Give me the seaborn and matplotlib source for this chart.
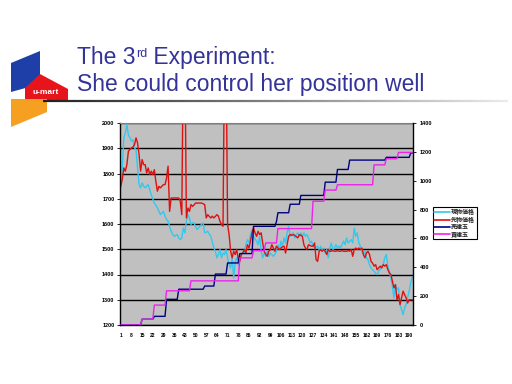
import numpy as np
import pandas as pd
import matplotlib
matplotlib.use("Agg")
import matplotlib.pyplot as plt
import seaborn as sns
from matplotlib.patches import Polygon
from matplotlib.collections import LineCollection
from matplotlib.lines import Line2D

# ---------------- data ----------------
spot_price = [
    1740, 1822, 1941, 1961, 1994, 1954, 1941, 1928, 1934, 1901,
    1895, 1822, 1756, 1743, 1763, 1750, 1743, 1750, 1756, 1735,
    1716, 1700, 1683, 1675, 1664, 1650, 1637, 1645, 1650, 1630,
    1618, 1611, 1590, 1571, 1560, 1551, 1555, 1558, 1545, 1538,
    1545, 1584, 1565, 1611, 1637, 1624, 1598, 1605, 1604, 1590,
    1578, 1585, 1591, 1600, 1604, 1565, 1568, 1571, 1560, 1551,
    1530, 1505, 1492, 1466, 1479, 1499, 1466, 1485, 1479, 1499,
    1466, 1439, 1426, 1466, 1386, 1452, 1466, 1439, 1460, 1479,
    1492, 1485, 1518, 1538, 1525, 1558, 1578, 1551, 1540, 1532,
    1518, 1551, 1492, 1466, 1485, 1472, 1492, 1472, 1485, 1478,
    1472, 1480, 1492, 1518, 1499, 1532, 1512, 1545, 1525, 1565,
    1591, 1551, 1560, 1565, 1545, 1558, 1565, 1551, 1565, 1551,
    1565, 1551, 1558, 1545, 1525, 1532, 1512, 1505, 1508, 1512,
    1499, 1512, 1492, 1505, 1485, 1499, 1466, 1505, 1525, 1499,
    1505, 1518, 1505, 1512, 1505, 1518, 1532, 1518, 1545, 1525,
    1532, 1538, 1525, 1584, 1551, 1565, 1525, 1512, 1492, 1479,
    1492, 1466, 1459, 1439, 1426, 1419, 1413, 1405, 1400, 1413,
    1419, 1433, 1439, 1466, 1479, 1433, 1413, 1386, 1353, 1307,
    1360, 1340, 1347, 1281, 1261, 1241, 1268, 1281, 1310, 1334,
    1367, 1390,
]
futures_price = [
    1750, 1776, 1822, 1809, 1835, 1888, 1895, 1901, 1905, 1914,
    1941, 1921, 1875, 1809, 1855, 1835, 1835, 1802, 1822, 1796,
    1809, 1796, 1815, 1769, 1730, 1749, 1743, 1750, 1756, 1756,
    1782, 1829, 1650, 1703, 1703, 1703, 1703, 1703, 1703, 1690,
    1637, 2300, 2300, 1624, 1663, 1650, 1677, 1670, 1675, 1683,
    1683, 1683, 1683, 1683, 1680, 1677, 1624, 1637, 1630, 1624,
    1631, 1624, 1630, 1637, 1631, 1611, 1598, 1591, 2300, 2300,
    1598, 1558, 1492, 1466, 1492, 1479, 1499, 1459, 1452, 1479,
    1485, 1499, 1485, 1518, 1505, 1532, 1565, 1584, 1565, 1551,
    1571, 1558, 1565, 1525, 1492, 1480, 1472, 1492, 1499, 1518,
    1505, 1492, 1512, 1505, 1499, 1505, 1510, 1512, 1485, 1518,
    1551, 1558, 1555, 1558, 1555, 1550, 1545, 1558, 1555, 1551,
    1518, 1505, 1499, 1518, 1515, 1512, 1512, 1525, 1459, 1452,
    1492, 1499, 1492, 1499, 1492, 1479, 1499, 1492, 1492, 1495,
    1492, 1492, 1495, 1492, 1492, 1495, 1492, 1492, 1492, 1495,
    1492, 1499, 1472, 1499, 1505, 1499, 1505, 1499, 1505, 1479,
    1466, 1485, 1492, 1479, 1452, 1445, 1433, 1439, 1419, 1426,
    1433, 1426, 1439, 1433, 1439, 1420, 1406, 1400, 1373, 1347,
    1360, 1300, 1320, 1281, 1307, 1334, 1320, 1307, 1287, 1300,
    1300, 1300,
]
# position series as (first step, level) change points
sell_changes = [(1, 0), (15, 40), (23, 60), (31, 178), (39, 248), (56, 270),
                (63, 353), (71, 430), (79, 495), (88, 684), (103, 716),
                (104, 778), (112, 837), (119, 898), (135, 990), (143, 1078),
                (151, 1143), (175, 1162), (191, 1192)]
buy_changes = [(1, 0), (15, 40), (23, 138), (31, 237), (47, 306), (79, 465),
               (88, 515), (96, 569), (104, 668), (127, 858), (135, 935),
               (143, 972), (167, 1110), (175, 1152), (183, 1196)]
n_steps = 192
series_labels = ["現物価格", "先物価格", "売建玉", "買建玉"]
x_tick_labels = list(range(1, 191, 7))
left_ticks = list(range(1200, 2001, 100))
right_ticks = list(range(0, 1401, 200))


def expand(changes, n):
    starts = [c[0] for c in changes] + [n + 1]
    vals = []
    for i, (s, v) in enumerate(changes):
        vals += [v] * (starts[i + 1] - s)
    return vals


sell_pos = expand(sell_changes, n_steps)
buy_pos = expand(buy_changes, n_steps)
steps = list(range(1, n_steps + 1))
df = pd.DataFrame({"t": steps, "spot": spot_price, "futures": futures_price,
                   "sell": sell_pos, "buy": buy_pos})

# ---------------- style ----------------
sns.set_style("white")
plt.rcParams["font.family"] = ["Liberation Sans", "Noto Sans CJK JP", "DejaVu Sans"]

W, H = 512, 384
fig = plt.figure(figsize=(W / 100, H / 100), dpi=100)
fig.patch.set_facecolor("white")


def fx(x):
    return x / W


def fy(y):
    return 1 - y / H


c_cyan, c_red, c_navy, c_mag = "#33C8EE", "#DD1111", "#000080", "#EE22EE"

ax = fig.add_axes([fx(120), fy(325), 293 / W, 202 / H])
ax.set_facecolor("#C0C0C0")
sns.lineplot(data=df, x="t", y="spot", ax=ax, color=c_cyan, lw=1.0)
sns.lineplot(data=df, x="t", y="futures", ax=ax, color=c_red, lw=1.0)
ax.set_xlim(0.5, n_steps + 0.5)
ax.set_ylim(1200, 2000)
ax.set_yticks(left_ticks, labels=[str(v) for v in left_ticks],
              fontsize=4, fontweight="bold")
ax.set_xticks(x_tick_labels, labels=[str(v) for v in x_tick_labels],
              fontsize=3.6, fontweight="bold")
ax.set_xticks(steps, minor=True)
ax.grid(axis="y", color="black", lw=1.0)
ax.grid(axis="x", visible=False)
ax.set_axisbelow(True)
ax.tick_params(axis="y", length=2, width=0.6, pad=2, colors="black")
ax.tick_params(axis="x", which="both", length=2, width=0.5, pad=4,
               direction="out", colors="black")
ax.set_xlabel("")
ax.set_ylabel("")
for s in ["left", "bottom"]:
    ax.spines[s].set_color("black")
    ax.spines[s].set_linewidth(1.0)
ax.spines["top"].set_color("#808080")
ax.spines["top"].set_linewidth(0.8)
ax.spines["right"].set_visible(False)

ax2 = ax.twinx()
sns.lineplot(data=df, x="t", y="sell", ax=ax2, color=c_navy, lw=1.0)
sns.lineplot(data=df, x="t", y="buy", ax=ax2, color=c_mag, lw=1.0)
ax2.set_ylim(0, 1400)
ax2.set_xlim(0.5, n_steps + 0.5)
ax2.set_yticks(right_ticks, labels=[str(v) for v in right_ticks],
               fontsize=4, fontweight="bold")
ax2.tick_params(axis="y", length=2, width=0.6, pad=3, colors="black")
ax2.set_ylabel("")
ax2.grid(False)
for s in ["left", "bottom", "top"]:
    ax2.spines[s].set_visible(False)
ax2.spines["right"].set_color("black")
ax2.spines["right"].set_linewidth(1.0)

# legend
handles = [Line2D([], [], color=c, lw=1.2) for c in [c_cyan, c_red, c_navy, c_mag]]
leg = ax2.legend(handles, series_labels, loc="upper left",
                 bbox_to_anchor=(fx(433), fy(207)), bbox_transform=fig.transFigure,
                 prop={"family": ["Noto Sans CJK JP"], "size": 4.3, "weight": "bold"},
                 handlelength=2.6, handletextpad=0.2, labelspacing=0.05,
                 borderpad=0.25, borderaxespad=0, frameon=True, fancybox=False,
                 edgecolor="black", framealpha=1)
leg.get_frame().set_linewidth(0.8)

# ---------------- slide decoration ----------------
title_color = "#333399"
renderer = fig.canvas.get_renderer()
t1 = fig.text(fx(77), fy(64), "The 3", fontsize=16.5, color=title_color,
              va="baseline", ha="left")
bb = t1.get_window_extent(renderer)
t2 = fig.text(bb.x1 / W + 0.5 / W, fy(57), "rd", fontsize=9, color=title_color,
              va="baseline", ha="left")
bb2 = t2.get_window_extent(renderer)
fig.text(bb2.x1 / W, fy(64), " Experiment:", fontsize=16.5, color=title_color,
         va="baseline", ha="left")
fig.text(fx(77), fy(91), "She could control her position well", fontsize=16.5,
         color=title_color, va="baseline", ha="left")

xs = np.linspace(43, 508, 240)
segs = [[(fx(xs[i]), fy(101)), (fx(xs[i + 1]), fy(101))] for i in range(len(xs) - 1)]
cols = [(0.12 + 0.8 * f, 0.12 + 0.8 * f, 0.12 + 0.8 * f) for f in np.linspace(0, 1, len(segs))]
fig.add_artist(LineCollection(segs, colors=cols, linewidths=1.6, transform=fig.transFigure))


def poly(pts, color):
    fig.add_artist(Polygon([(fx(x), fy(y)) for x, y in pts], closed=True,
                           facecolor=color, edgecolor="none", transform=fig.transFigure))


poly([(11, 63), (40, 51), (40, 84), (11, 92)], "#1F3FA8")
poly([(25, 88), (40, 74), (68, 89), (68, 100), (25, 100)], "#E8141B")
poly([(11, 99), (47, 99), (47, 112), (11, 127)], "#F5A020")
fig.text(fx(46), fy(93), "u-mart", fontsize=6, color="white", fontweight="bold",
         ha="center", va="center")

fig.savefig("out.png", dpi=100, facecolor="white")
